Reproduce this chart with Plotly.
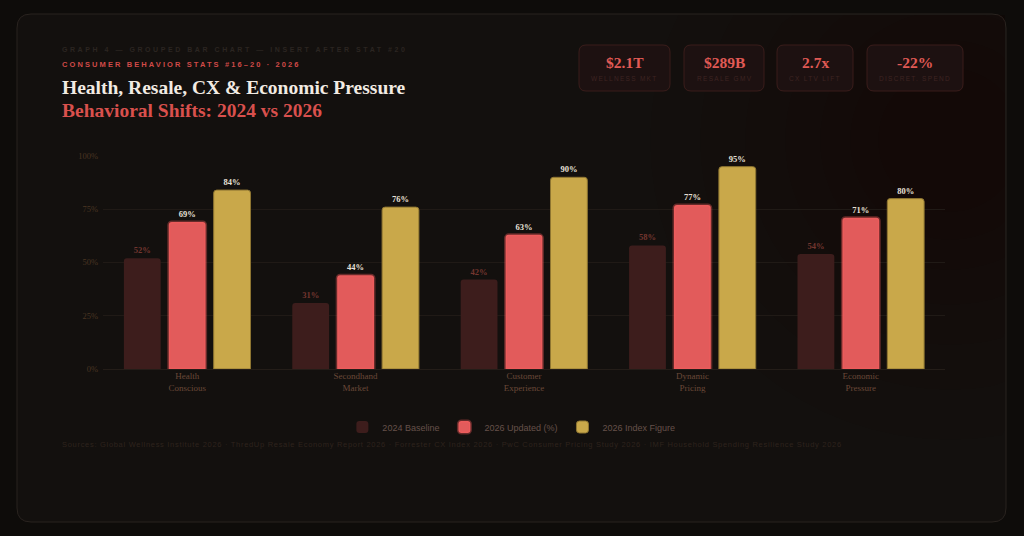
import math
import plotly.graph_objects as go

# ---------------- data ----------------
categories = ["Health<br>Conscious", "Secondhand<br>Market", "Customer<br>Experience",
              "Dynamic<br>Pricing", "Economic<br>Pressure"]
baseline_2024 = [52, 31, 42, 58, 54]
updated_2026 = [69, 44, 63, 77, 71]
index_2026 = [84, 76, 90, 95, 80]
series_names = ["2024 Baseline", "2026 Updated (%)", "2026 Index Figure"]
y_ticks = [0, 25, 50, 75, 100]
y_tick_labels = ["0%", "25%", "50%", "75%", "100%"]
stat_values = ["$2.1T", "$289B", "2.7x", "-22%"]
stat_labels = ["WELLNESS MKT", "RESALE GMV", "CX LTV LIFT", "DISCRET. SPEND"]

# ---------------- layout geometry ----------------
W, H = 1024, 536
L, R, T, B = 103, 79, 156, 167
PW = W - L - R
PH = H - T - B

SERIF = "Liberation Serif, Times New Roman, serif"
SANS = "Liberation Sans, Arial, sans-serif"


def px(x):
    return (x - L) / PW


def py(y):
    return (T + PH - y) / PH


def rrect(x0, y0, x1, y1, r):
    rx = r / PW
    ry = r / PH
    a, b, c, d = px(x0), px(x1), py(y0), py(y1)  # c top, d bottom
    return (f"M{a+rx},{c} L{b-rx},{c} Q{b},{c} {b},{c-ry} "
            f"L{b},{d+ry} Q{b},{d} {b-rx},{d} L{a+rx},{d} "
            f"Q{a},{d} {a},{d+ry} L{a},{c-ry} Q{a},{c} {a+rx},{c} Z")


shapes = []
# card
shapes.append(dict(type="path", xref="paper", yref="paper", layer="below",
                   path=rrect(17, 14, 1006, 522, 14),
                   fillcolor="#13100e", line=dict(color="#29231f", width=1)))

# very subtle red glow top-right (clamped to card)
cx, cy = 950, 140
for rad in [300, 250, 205, 165, 130, 100, 72]:
    pts = []
    for k in range(73):
        t = 2 * math.pi * k / 72
        x = min(max(cx + rad * math.cos(t), 18), 1005)
        y = min(max(cy + rad * math.sin(t), 15), 521)
        pts.append((px(x), py(y)))
    path = "M" + " L".join(f"{a},{b}" for a, b in pts) + " Z"
    shapes.append(dict(type="path", xref="paper", yref="paper", layer="below",
                       path=path, fillcolor="rgba(140,35,35,0.007)", line=dict(width=0)))

# stat boxes
boxes = [(579, 670), (684, 764), (777, 853), (867, 963)]
for (x0, x1) in boxes:
    shapes.append(dict(type="path", xref="paper", yref="paper", layer="below",
                       path=rrect(x0, 45, x1, 91, 7),
                       fillcolor="#1d1111", line=dict(color="#3a1d1b", width=1)))

annotations = []


def ann(text, x, y, size, color, family, xanchor="left", weight="normal"):
    annotations.append(dict(text=text, x=px(x), y=py(y), xref="paper", yref="paper",
                            xanchor=xanchor, yanchor="middle", showarrow=False,
                            font=dict(size=size, color=color, family=family, weight=weight)))


ann('<span style="letter-spacing:2.55px">GRAPH 4 — GROUPED BAR CHART — INSERT AFTER STAT #20</span>',
    60, 49, 7, "#2b2521", SANS, weight="bold")
ann('<span style="letter-spacing:2.1px">CONSUMER BEHAVIOR STATS #16–20 · 2026</span>',
    60, 64, 7.5, "#d04a48", SANS, weight="bold")
ann("Health, Resale, CX &amp; Economic Pressure", 60, 87, 19.5, "#f2ebe3", SERIF, weight="bold")
ann("Behavioral Shifts: 2024 vs 2026", 60, 110, 19.5, "#d9504d", SERIF, weight="bold")

for (x0, x1), v, lab in zip(boxes, stat_values, stat_labels):
    c = (x0 + x1) / 2
    ann(v, c, 63, 15.5, "#e05a55", SERIF, xanchor="center", weight="bold")
    ann(f'<span style="letter-spacing:1.3px">{lab}</span>', c, 78, 6.5, "#3d2422", SANS,
        xanchor="center")

ann('<span style="letter-spacing:0.7px">Sources: Global Wellness Institute 2026 · ThredUp Resale Economy Report 2026 · '
    'Forrester CX Index 2026 · PwC Consumer Pricing Study 2026 · IMF Household Spending Resilience Study 2026</span>',
    60, 444, 7.5, "#2e231d", SANS)

fig = go.Figure()
fig.add_trace(go.Bar(
    name=series_names[0], x=categories, y=baseline_2024,
    marker=dict(color="#3d1d1c", cornerradius=3, line=dict(width=0)),
    texttemplate="%{y}%", textposition="outside",
    textfont=dict(family=SERIF, size=8.5, color="#73362f", weight="bold"),
    cliponaxis=False))
fig.add_trace(go.Bar(
    name=series_names[1], x=categories, y=updated_2026,
    marker=dict(color="#e25b5b", cornerradius=3,
                line=dict(width=3, color="rgba(255,95,95,0.35)")),
    texttemplate="%{y}%", textposition="outside",
    textfont=dict(family=SERIF, size=8.5, color="#e8e0d8", weight="bold"),
    cliponaxis=False))
fig.add_trace(go.Bar(
    name=series_names[2], x=categories, y=index_2026,
    marker=dict(color="#c9a84a", cornerradius=3, line=dict(width=1, color="#8f7632")),
    texttemplate="%{y}%", textposition="outside",
    textfont=dict(family=SERIF, size=8.5, color="#e8e0d8", weight="bold"),
    cliponaxis=False))

fig.update_layout(
    width=W, height=H, autosize=False,
    margin=dict(l=L, r=R, t=T, b=B, pad=0),
    paper_bgcolor="#0e0c0a", plot_bgcolor="rgba(0,0,0,0)",
    barmode="group", bargap=0.2, bargroupgap=0.18,
    showlegend=True,
    legend=dict(orientation="h", x=0.485, xanchor="center", y=py(427), yanchor="middle",
                font=dict(family=SANS, size=9, color="#66504a"),
                bgcolor="rgba(0,0,0,0)", itemwidth=30),
    xaxis=dict(showgrid=False, zeroline=False, showline=False, ticks="",
               tickfont=dict(family=SERIF, size=9, color="#6a4838")),
    yaxis=dict(range=[0, 100], tickvals=y_ticks, ticktext=y_tick_labels,
               showgrid=True, gridcolor="#201a16", gridwidth=1,
               zeroline=True, zerolinecolor="#241d18", zerolinewidth=1,
               showline=False, ticks="", ticklabelstandoff=4,
               tickfont=dict(family=SERIF, size=8.5, color="#4a3522")),
    shapes=shapes, annotations=annotations,
    hovermode=False,
)

fig.write_html("out.html")
